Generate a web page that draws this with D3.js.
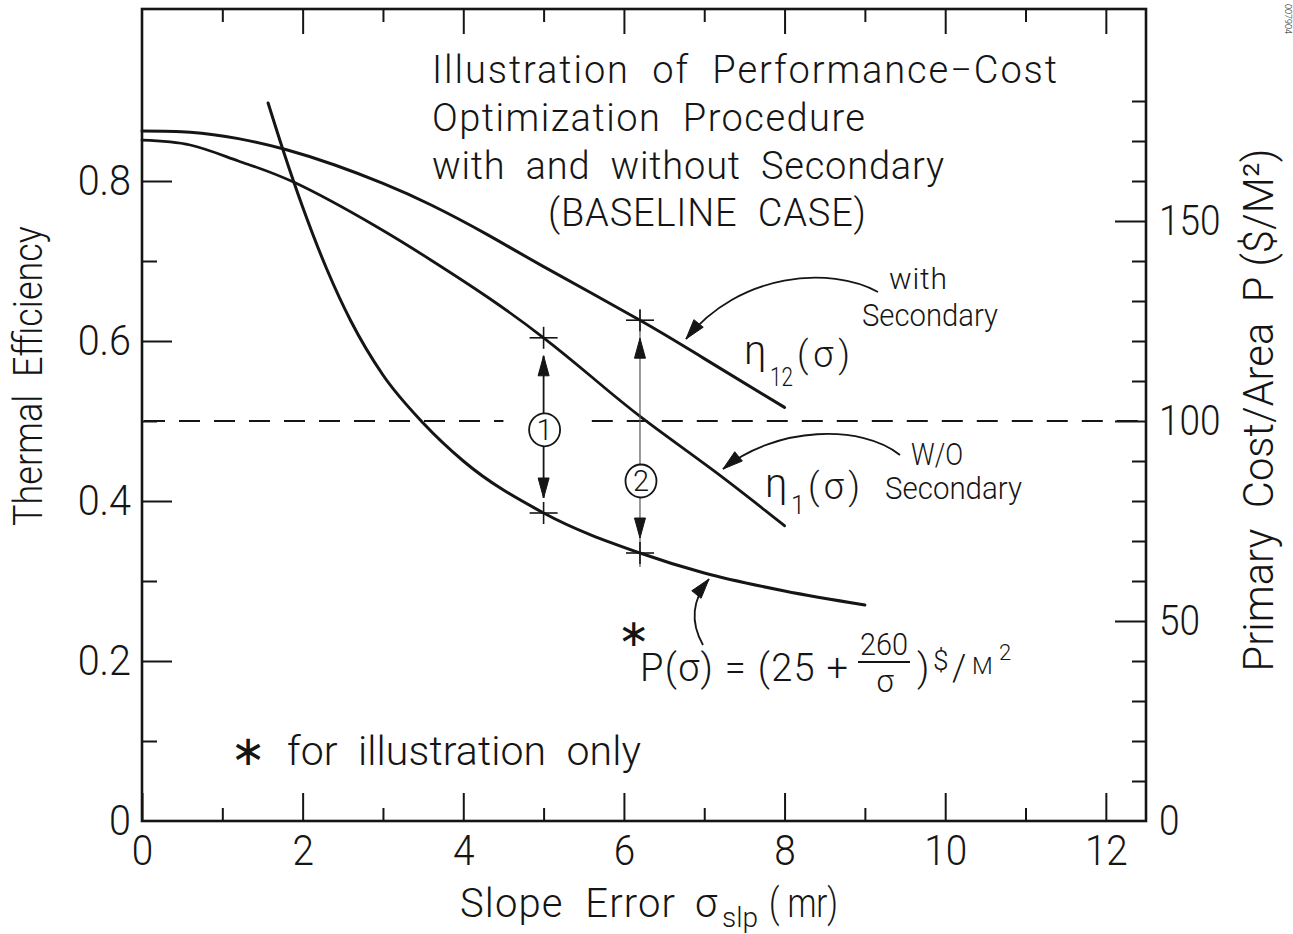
<!DOCTYPE html>
<html>
<head>
<meta charset="utf-8">
<script src="https://cdn.jsdelivr.net/npm/d3@7"></script>
<style>
  html, body { margin: 0; padding: 0; background: #fff; }
  svg { display: block; }
  text { font-family: Roboto, "Liberation Sans", Arial, sans-serif; font-weight: 300; fill: #151515; white-space: pre; }
  text.star { font-family: "DejaVu Sans", sans-serif; font-weight: 400; }
</style>
</head>
<body>
<svg id="chart" width="1293" height="934"></svg>
<script>
// ---- data: slope error sigma (mr) against thermal efficiency and primary cost ----
const sigmaEta12 = [0, 0.6, 1.2, 1.8, 2.4, 3.0, 3.6, 4.3, 5.0, 6.2, 7.0, 8.0];
const eta12      = [0.8625, 0.861, 0.853, 0.839, 0.820, 0.797, 0.770, 0.733, 0.693, 0.626, 0.578, 0.517];

const sigmaEta1  = [0, 0.6, 1.2, 1.9, 2.9, 3.6, 4.3, 5.0, 5.6, 6.25, 7.13, 8.0];
const eta1       = [0.851, 0.845, 0.825, 0.798, 0.744, 0.701, 0.655, 0.604, 0.555, 0.502, 0.437, 0.369];

// primary cost per area, P(sigma) = 25 + 260/sigma  ($/M²)
const sigmaCost  = [1.57, 1.76, 2.0, 2.3, 2.6, 3.0, 3.5, 4.0, 5.0, 6.2, 7.0, 8.0, 9.0];
const costP      = [179.5, 167.5, 153.5, 138, 125, 111.5, 99.5, 90, 77, 67, 62, 57.5, 54];

// optimisation steps: sigma, efficiency reached, cost reached, circled step label
const stepSigma  = [5.0, 6.2];
const stepEta    = [0.604, 0.626];
const stepCost   = [77, 67];
const stepLabels = ["1", "2"];
const stepCircleEta = [0.489, 0.425];

const refEta = 0.5;   // same level as 100 $/M² on the cost axis

// ---- ticks and labels ----
const sigmaMajor = [0, 2, 4, 6, 8, 10, 12];
const sigmaMinor = [1, 3, 5, 7, 9, 11];
const etaMajor   = [0, 0.2, 0.4, 0.6, 0.8];
const etaLabels  = ["0", "0.2", "0.4", "0.6", "0.8"];
const etaMinor   = [0.1, 0.3, 0.5, 0.7];
const costMajor  = [0, 50, 100, 150];
const costMinor  = [10, 20, 30, 40, 60, 70, 80, 90, 110, 120, 130, 140, 160, 170, 180];

const titleLines = ["Illustration  of  Performance\u2212Cost",
                    "Optimization  Procedure",
                    "with  and  without  Secondary",
                    "(BASELINE  CASE)"];

const INK = "#151515";
const svg = d3.select("#chart");

// scales: left efficiency and right cost share the same frame (0.5 <-> 100)
const x  = d3.scaleLinear().domain([0, 12.5]).range([142, 1146]);
const yL = d3.scaleLinear().domain([0, 1.015]).range([821, 9]);
const yR = d3.scaleLinear().domain([0, 203]).range([821, 9]);

// text helpers
function fitWidth(sel, width) {
  sel.each(function () {
    const natural = this.getComputedTextLength();
    d3.select(this)
      .attr("textLength", width)
      .attr("lengthAdjust", width < natural ? "spacingAndGlyphs" : "spacing");
  });
  return sel;
}
function squeeze(sel, factor) {
  sel.each(function () {
    const w = this.getComputedTextLength();
    d3.select(this).attr("textLength", w * factor).attr("lengthAdjust", "spacingAndGlyphs");
  });
  return sel;
}
function label(parent, str, px, py, size, opts = {}) {
  const t = parent.append("text")
    .attr("x", px).attr("y", py)
    .attr("font-size", size)
    .attr("text-anchor", opts.anchor || "start")
    .attr("class", opts.cls || null)
    .text(str);
  if (opts.width) fitWidth(t, opts.width);
  return t;
}

// ---- axes ----
function styleAxis(sel, size) {
  sel.select(".domain").remove();
  sel.selectAll(".tick line").attr("stroke", INK).attr("stroke-width", 2);
  sel.selectAll(".tick text").attr("font-size", size).attr("fill", INK);
  sel.attr("font-family", null).attr("font-size", null);
}

const axes = svg.append("g");
const X0 = x.range()[0], X1 = x.range()[1], Y0 = yL.range()[0], Y1 = yL.range()[1];

// bottom
axes.append("g").attr("transform", `translate(0,${Y0})`)
  .call(d3.axisBottom(x).tickValues(sigmaMajor).tickSize(-28).tickPadding(13).tickFormat(d3.format("d")))
  .call(s => styleAxis(s, 43))
  .call(s => squeeze(s.selectAll(".tick text"), 0.9));
axes.append("g").attr("transform", `translate(0,${Y0})`)
  .call(d3.axisBottom(x).tickValues(sigmaMinor).tickSize(-13).tickFormat(""))
  .call(s => styleAxis(s, 42));
// top
axes.append("g").attr("transform", `translate(0,${Y1})`)
  .call(d3.axisTop(x).tickValues(sigmaMajor.slice(1)).tickSize(-25).tickFormat(""))
  .call(s => styleAxis(s, 42));
axes.append("g").attr("transform", `translate(0,${Y1})`)
  .call(d3.axisTop(x).tickValues(sigmaMinor).tickSize(-13).tickFormat(""))
  .call(s => styleAxis(s, 42));
// left
axes.append("g").attr("transform", `translate(${X0},0)`)
  .call(d3.axisLeft(yL).tickValues(etaMajor).tickSize(-30).tickPadding(11)
        .tickFormat((d, i) => etaLabels[i]))
  .call(s => styleAxis(s, 43))
  .call(s => s.selectAll(".tick line").filter(d => d === 0).remove())
  .call(s => squeeze(s.selectAll(".tick text"), 0.92));
axes.append("g").attr("transform", `translate(${X0},0)`)
  .call(d3.axisLeft(yL).tickValues(etaMinor).tickSize(-15).tickFormat(""))
  .call(s => styleAxis(s, 42));
// right
axes.append("g").attr("transform", `translate(${X1},0)`)
  .call(d3.axisRight(yR).tickValues(costMajor).tickSize(-31).tickPadding(13).tickFormat(d3.format("d")))
  .call(s => styleAxis(s, 42))
  .call(s => s.selectAll(".tick line").filter(d => d === 0).remove())
  .call(s => squeeze(s.selectAll(".tick text"), 0.88));
axes.append("g").attr("transform", `translate(${X1},0)`)
  .call(d3.axisRight(yR).tickValues(costMinor).tickSize(-14).tickFormat(""))
  .call(s => styleAxis(s, 42));

// frame
svg.append("rect")
  .attr("x", X0).attr("y", Y1).attr("width", X1 - X0).attr("height", Y0 - Y1)
  .attr("fill", "none").attr("stroke", INK).attr("stroke-width", 2.6);

// ---- reference level (dashed), broken around step 1 ----
const dashRuns = [[X0 + 2, x(4.5)], [x(5.6), X1 - 2]];
svg.append("g").selectAll("line").data(dashRuns).join("line")
  .attr("x1", d => d[0]).attr("x2", d => d[1])
  .attr("y1", yL(refEta)).attr("y2", yL(refEta))
  .attr("stroke", INK).attr("stroke-width", 2).attr("stroke-dasharray", "21 14");

// ---- curves ----
const lineL = d3.line().curve(d3.curveNatural).x(d => x(d[0])).y(d => yL(d[1]));
const lineR = d3.line().curve(d3.curveMonotoneX).x(d => x(d[0])).y(d => yR(d[1]));
const curves = svg.append("g").attr("fill", "none").attr("stroke", INK)
  .attr("stroke-linecap", "round").attr("stroke-linejoin", "round");
curves.append("path").attr("d", lineL(d3.zip(sigmaEta12, eta12))).attr("stroke-width", 3);
curves.append("path").attr("d", lineL(d3.zip(sigmaEta1, eta1))).attr("stroke-width", 2.8);
curves.append("path").attr("d", lineR(d3.zip(sigmaCost, costP))).attr("stroke-width", 3);

// ---- optimisation steps ----
function arrowHead(parent, tx, ty, dx, dy, len = 20, half = 5.5) {
  const n = Math.hypot(dx, dy); dx /= n; dy /= n;
  const bx = tx - dx * len, by = ty - dy * len;
  parent.append("path")
    .attr("d", `M${tx},${ty}L${bx - dy * half},${by + dx * half}L${bx + dy * half},${by - dx * half}Z`)
    .attr("fill", INK).attr("stroke", INK).attr("stroke-width", 1);
}
const steps = svg.append("g");
stepSigma.forEach((s, i) => {
  const sx = x(s);
  const topY = yL(stepEta[i]), botY = yR(stepCost[i]);
  const cy = yL(stepCircleEta[i]);
  const upTip = topY + 18, downTip = botY - 15;
  if (i === 0) {
    steps.append("line").attr("x1", sx).attr("x2", sx).attr("y1", upTip).attr("y2", downTip)
      .attr("stroke", INK).attr("stroke-width", 1.8);
  } else {
    steps.append("line").attr("x1", sx).attr("x2", sx).attr("y1", topY - 10).attr("y2", botY + 14)
      .attr("stroke", "#555").attr("stroke-width", 1.2);
  }
  arrowHead(steps, sx, upTip, 0, -1);
  arrowHead(steps, sx, downTip, 0, 1);
  // crosses on the curves
  [topY, botY].forEach(cyy => {
    steps.append("line").attr("x1", sx - 14).attr("x2", sx + 14).attr("y1", cyy).attr("y2", cyy)
      .attr("stroke", INK).attr("stroke-width", 1.6);
    steps.append("line").attr("x1", sx).attr("x2", sx).attr("y1", cyy - 11).attr("y2", cyy + 11)
      .attr("stroke", INK).attr("stroke-width", 1.6);
  });
  // circled step number
  steps.append("ellipse").attr("cx", sx + 1).attr("cy", cy).attr("rx", 15.5).attr("ry", 16.5)
    .attr("fill", "#fff").attr("stroke", INK).attr("stroke-width", 1.8);
  label(steps, stepLabels[i], sx + 1, cy + 10, 29, { anchor: "middle" });
});

// ---- pointer arrows for the curve labels ----
const pointers = svg.append("g").attr("fill", "none").attr("stroke", INK).attr("stroke-width", 1.8);
function pointer(p0, c1, c2, p1) {
  pointers.append("path").attr("d", `M${p0[0]},${p0[1]}C${c1[0]},${c1[1]} ${c2[0]},${c2[1]} ${p1[0]},${p1[1]}`);
  arrowHead(svg, p1[0], p1[1], p1[0] - c2[0], p1[1] - c2[1], 20, 6);
}
pointer([878, 292], [830, 266], [740, 272], [686, 339]);
pointer([900, 455], [862, 424], [776, 426], [723, 469]);
pointer([703, 645], [690, 622], [692, 600], [709, 579]);

// ---- text ----
const notes = svg.append("g");
titleLines.forEach((t, i) => {
  label(notes, t, [432, 432, 432, 548][i], [83, 131, 179, 226][i], 38,
        { width: [625, 433, 512, 318][i] });
});

// curve labels
label(notes, "with", 889, 289, 30, { width: 58 });
label(notes, "Secondary", 862, 326, 31, { width: 136 });
label(notes, "W/O", 911, 465, 31, { width: 52 });
label(notes, "Secondary", 885, 499, 31, { width: 137 });

label(notes, "\u03B7", 744, 364, 40);
label(notes, "12", 770, 386, 25, { width: 23 });
label(notes, "(\u03C3)", 797, 367, 36, { width: 53 });
label(notes, "\u03B7", 765, 497, 40);
label(notes, "1", 791, 514, 25);
label(notes, "(\u03C3)", 808, 499, 36, { width: 52 });

// cost law
label(notes, "\u2217", 634, 646, 38, { anchor: "middle", cls: "star" });
label(notes, "P(\u03C3) = (25 +", 640, 681, 38, { width: 208 });
label(notes, "260", 884, 655, 31, { anchor: "middle", width: 48 });
notes.append("line").attr("x1", 858).attr("x2", 910).attr("y1", 662).attr("y2", 662)
  .attr("stroke", INK).attr("stroke-width", 1.8);
label(notes, "\u03C3", 885, 692, 31, { anchor: "middle" });
label(notes, ")", 917, 681, 38);
label(notes, "$", 933, 670, 28);
label(notes, "/", 952, 680, 36);
label(notes, "M", 972, 674, 24, { width: 22 });
label(notes, "2", 999, 660, 22);

label(notes, "\u2217", 248, 765, 42, { anchor: "middle", cls: "star" });
label(notes, "for  illustration  only", 287, 765, 41, { width: 354 });

// axis titles
label(notes, "Slope  Error", 460, 917, 40, { width: 215 });
label(notes, "\u03C3", 695, 917, 40);
label(notes, "slp", 722, 927, 28);
label(notes, "( mr)", 769, 917, 40, { width: 69 });

label(notes, "Thermal  Efficiency", 0, 0, 41, { anchor: "middle", width: 300 })
  .attr("transform", "translate(42,376) rotate(-90)");
label(notes, "Primary  Cost/Area  P (\u0024/M\u00B2)", 0, 0, 42, { anchor: "middle", width: 523 })
  .attr("transform", "translate(1273,410) rotate(-90)");

label(notes, "007904", 0, 0, 9)
  .attr("transform", "translate(1285,4) rotate(90)");
</script>
</body>
</html>
